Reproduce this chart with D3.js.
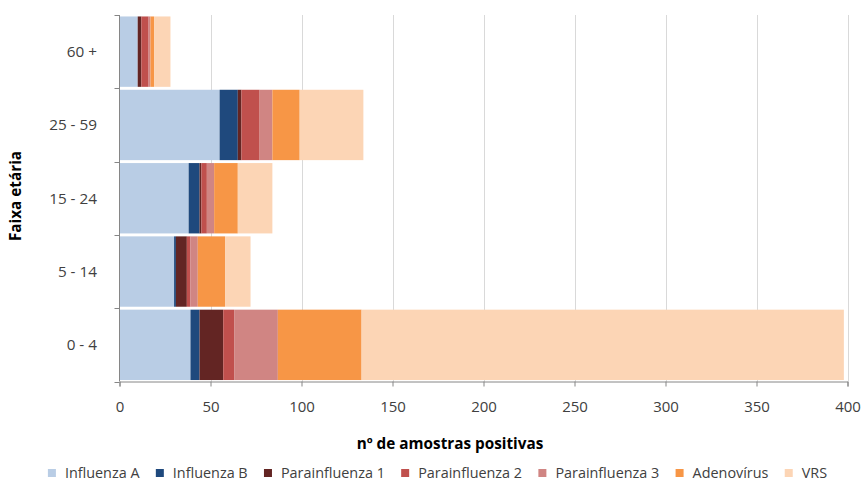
<!DOCTYPE html>
<html>
<head>
<meta charset="utf-8">
<script src="https://cdn.jsdelivr.net/npm/d3@7"></script>
<style>
  html, body { margin: 0; padding: 0; background: #fff; }
  svg { display: block; font-family: "Open Sans", "Noto Sans", sans-serif; }
</style>
</head>
<body>
<svg id="chart" width="861" height="489"></svg>
<script>
// ---- data ----
const categories = ["60 +", "25 - 59", "15 - 24", "5 - 14", "0 - 4"];
const seriesNames = ["Influenza A", "Influenza B", "Parainfluenza 1", "Parainfluenza 2", "Parainfluenza 3", "Adenovírus", "VRS"];
const influenzaA     = [10, 55, 38, 30, 39];
const influenzaB     = [0, 10, 6, 1, 5];
const parainfluenza1 = [2, 2, 1, 6, 13];
const parainfluenza2 = [4, 10, 3, 2, 6];
const parainfluenza3 = [1, 7, 4, 4, 24];
const adenovirus     = [2, 15, 13, 15, 46];
const vrs            = [9, 35, 19, 14, 265];
const xTicks = [0, 50, 100, 150, 200, 250, 300, 350, 400];
const colors = ["#b9cde5", "#1f497d", "#632523", "#c0504d", "#d08583", "#f79646", "#fcd5b5"];

const seriesValues = [influenzaA, influenzaB, parainfluenza1, parainfluenza2, parainfluenza3, adenovirus, vrs];
const rows = categories.map((c, i) => {
  const r = { cat: c };
  seriesNames.forEach((s, j) => r[s] = seriesValues[j][i]);
  return r;
});

// ---- layout ----
const svg = d3.select("#chart");
const plot = { left: 119.5, right: 847.5, top: 15, bottom: 381.5 };

const x = d3.scaleLinear().domain([0, 400]).range([plot.left, plot.right]);
const y = d3.scaleBand().domain(categories).range([plot.top, plot.bottom])
  .paddingInner(0.04).paddingOuter(0.02);
const yEdges = d3.scaleBand().domain(categories).range([plot.top, plot.bottom]);
const color = d3.scaleOrdinal().domain(seriesNames).range(colors);

// gridlines
svg.append("g").selectAll("line").data(xTicks.filter(t => t > 0)).join("line")
  .attr("x1", d => Math.round(x(d)) + 0.5).attr("x2", d => Math.round(x(d)) + 0.5)
  .attr("y1", plot.top).attr("y2", plot.bottom)
  .attr("stroke", "#d9d9d9").attr("stroke-width", 1);

// stacked bars
const stack = d3.stack().keys(seriesNames)(rows);
svg.append("g").selectAll("g").data(stack).join("g")
  .attr("fill", d => color(d.key))
  .selectAll("rect").data(d => d).join("rect")
  .attr("x", d => x(d[0]))
  .attr("y", d => y(d.data.cat))
  .attr("width", d => Math.max(0, x(d[1]) - x(d[0])))
  .attr("height", y.bandwidth());

// x axis
const xAxis = d3.axisBottom(x).tickValues(xTicks).tickSize(5).tickPadding(15).tickFormat(d3.format("d"));
const gx = svg.append("g").attr("transform", `translate(0,${plot.bottom})`).call(xAxis);
gx.select(".domain").attr("stroke", "#868686");
gx.selectAll(".tick line").attr("stroke", "#868686");
gx.selectAll(".tick text").attr("fill", "#404040").attr("font-size", 15)
  .attr("font-family", "'Open Sans', sans-serif");

// y axis line and ticks at band edges
svg.append("line").attr("x1", plot.left).attr("x2", plot.left)
  .attr("y1", plot.top).attr("y2", plot.bottom).attr("stroke", "#868686");
const edges = categories.map(c => yEdges(c)).concat([plot.bottom]);
svg.append("g").selectAll("line").data(edges).join("line")
  .attr("x1", plot.left - 5).attr("x2", plot.left)
  .attr("y1", d => Math.round(d) + 0.5).attr("y2", d => Math.round(d) + 0.5)
  .attr("stroke", "#868686");
svg.append("g").selectAll("text").data(categories).join("text")
  .attr("x", 97).attr("y", d => yEdges(d) + yEdges.bandwidth() / 2)
  .attr("dy", "0.35em").attr("text-anchor", "end")
  .attr("fill", "#404040").attr("font-size", 15.3).text(d => d);

// axis titles
svg.append("text").attr("x", 450).attr("y", 449).attr("text-anchor", "middle")
  .attr("font-weight", "bold").attr("font-size", 15.3).attr("fill", "#000")
  .text("nº de amostras positivas");
svg.append("text").attr("transform", "translate(21,196) rotate(-90)")
  .attr("text-anchor", "middle").attr("font-weight", "bold").attr("font-size", 15.3)
  .attr("fill", "#000").text("Faixa etária");

// legend
const legend = svg.append("g");
const legY = 478;
const items = legend.selectAll("g").data(seriesNames).join("g");
items.append("rect").attr("width", 8).attr("height", 8).attr("y", legY - 9)
  .attr("fill", d => color(d));
items.append("text").attr("x", 17).attr("y", legY).attr("font-size", 14.4)
  .attr("fill", "#404040").text(d => d);
let cx = 0;
const widths = [];
items.each(function() {
  widths.push(d3.select(this).select("text").node().getComputedTextLength());
});
const gap = 16.3;
const total = widths.reduce((a, w) => a + 17 + w, 0) + gap * (widths.length - 1);
cx = 437.5 - total / 2;
items.each(function(d, i) {
  d3.select(this).attr("transform", `translate(${cx},0)`);
  cx += 17 + widths[i] + gap;
});
</script>
</body>
</html>
